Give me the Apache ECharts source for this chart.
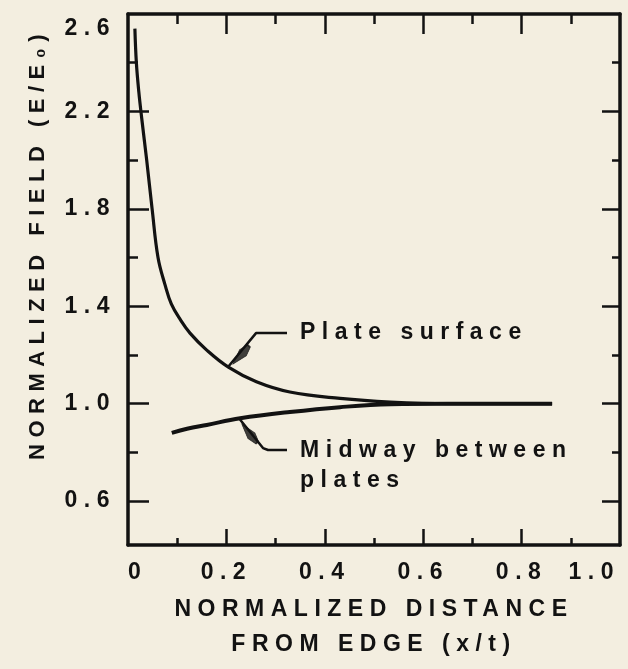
<!DOCTYPE html>
<html>
<head>
<meta charset="utf-8">
<script src="https://cdn.jsdelivr.net/npm/echarts@6/dist/echarts.min.js"></script>
<style>
  html, body { margin: 0; padding: 0; background: #f3eee0; }
  #chart { width: 628px; height: 669px; }
</style>
</head>
<body>
<div id="chart"></div>
<script>
// ---- Data ----
const xTickValues = [0, 0.2, 0.4, 0.6, 0.8, 1.0];
const xTickLabels = ['0', '0.2', '0.4', '0.6', '0.8', '1.0'];
const xMajorTicks = [0.2, 0.4, 0.6, 0.8];
const xMinorTicks = [0.1, 0.3, 0.5, 0.7, 0.9];
const yTickValues = [0.6, 1.0, 1.4, 1.8, 2.2, 2.6];
const yTickLabels = ['0.6', '1.0', '1.4', '1.8', '2.2', '2.6'];
const yMajorTicks = [0.6, 1.0, 1.4, 1.8, 2.2];
const yMinorTicks = [0.8, 1.2, 1.6, 2.0, 2.4];

const plateX = [0.014, 0.017, 0.022, 0.028, 0.038, 0.049, 0.061, 0.075, 0.088, 0.107, 0.126, 0.16, 0.204, 0.261, 0.329, 0.431, 0.533, 0.65, 0.862];
const plateY = [2.54, 2.40, 2.28, 2.17, 2.00, 1.80, 1.60, 1.49, 1.41, 1.343, 1.29, 1.22, 1.15, 1.09, 1.048, 1.022, 1.007, 1.0, 1.0];
const midwayX = [0.089, 0.12, 0.16, 0.228, 0.329, 0.431, 0.533, 0.65, 0.862];
const midwayY = [0.88, 0.897, 0.913, 0.94, 0.966, 0.986, 0.998, 1.0, 1.0];

// annotation leaders (data coordinates)
const plateLeaderX = [0.2033, 0.2602, 0.3232];
const plateLeaderY = [1.151, 1.29, 1.29];
const midwayLeaderX = [0.2276, 0.2744, 0.2846, 0.3232];
const midwayLeaderY = [0.935, 0.818, 0.81, 0.81];
const arrowX = [0.2296, 0.2470];
const arrowY = [1.200, 0.878];
const arrowAngle = [138.6, 39.4];
const plateLabel = 'Plate surface';
const midwayLabel = 'Midway between\nplates';
const xTitle = 'NORMALIZED DISTANCE\nFROM EDGE (x/t)';
const yTitle = 'NORMALIZED FIELD (E/E\u2080)';

// wide tracking of the typewriter-like lettering
(function () {
  const P = CanvasRenderingContext2D.prototype;
  const orig = P.fillText;
  P.fillText = function () {
    try { this.letterSpacing = '6.5px'; } catch (e) {}
    return orig.apply(this, arguments);
  };
})();

// ---- Build ----
const INK = '#121212';
const FONT = '"Liberation Sans", Arial, sans-serif';
const zip = (a, b) => a.map((v, i) => [v, b[i]]);
const lookup = (vals, labels) => (v) => {
  const i = vals.findIndex(t => Math.abs(t - v) < 1e-6);
  return i >= 0 ? labels[i] : '';
};
const xFmt = lookup(xTickValues, xTickLabels);
const yFmt = lookup(yTickValues, yTickLabels);

const labelStyle = { color: INK, fontFamily: FONT, fontSize: 23, fontWeight: 'bold' };
const GRID = { left: 128, right: 8, top: 14, bottom: 124, containLabel: false };

function xAx(grid, pos, ticks, len, showLine, extra) {
  return Object.assign({
    type: 'value', position: pos, min: 0, max: 1, gridIndex: grid,
    axisLine: { show: showLine, onZero: false, lineStyle: { color: INK, width: 3.5 } },
    axisTick: { show: true, inside: true, length: len, customValues: ticks, lineStyle: { color: INK, width: 2.5 } },
    axisLabel: { show: false },
    splitLine: { show: false }
  }, extra || {});
}
function yAx(grid, pos, ticks, len, showLine, extra) {
  return Object.assign({
    type: 'value', position: pos, min: 0.42, max: 2.6, gridIndex: grid,
    axisLine: { show: showLine, onZero: false, lineStyle: { color: INK, width: 3.5 } },
    axisTick: { show: true, inside: true, length: len, customValues: ticks, lineStyle: { color: INK, width: 2.5 } },
    axisLabel: { show: false },
    splitLine: { show: false }
  }, extra || {});
}

const chart = echarts.init(document.getElementById('chart'), null, { renderer: 'canvas', width: 628, height: 669 });

const option = {
  backgroundColor: '#f3eee0',
  animation: false,
  grid: [Object.assign({}, GRID), Object.assign({}, GRID)],
  xAxis: [
    xAx(0, 'bottom', xMajorTicks, 16, true, {
      axisLabel: Object.assign({
        show: true, customValues: xTickValues, margin: 16,
        formatter: (v) => xFmt(v), alignMinLabel: 'left', alignMaxLabel: 'right'
      }, labelStyle),
      name: xTitle, nameLocation: 'middle', nameGap: 47,
      nameTextStyle: { color: INK, fontFamily: FONT, fontSize: 23, fontWeight: 'bold', lineHeight: 35 }
    }),
    xAx(0, 'top', xMajorTicks, 20, true),
    xAx(1, 'bottom', xMinorTicks, 7, false),
    xAx(1, 'top', xMinorTicks, 10, false)
  ],
  yAxis: [
    yAx(0, 'left', yMajorTicks, 21, true, {
      axisLabel: Object.assign({
        show: true, customValues: yTickValues, margin: 12,
        formatter: (v) => (Math.abs(v - 2.6) < 1e-6 ? '{top|' + yFmt(v) + '}' : yFmt(v)),
        rich: { top: Object.assign({ padding: [30, 0, 0, 0] }, labelStyle) }
      }, labelStyle)
    }),
    yAx(0, 'right', yMajorTicks, 18, true),
    yAx(1, 'left', yMinorTicks, 10, false),
    yAx(1, 'right', yMinorTicks, 8, false)
  ],
  graphic: [{
    type: 'text', x: 38, y: 244, rotation: Math.PI / 2,
    style: { text: yTitle, fill: INK, font: 'bold 22px ' + FONT, align: 'center', verticalAlign: 'middle' }
  }],
  series: [
    {
      name: 'Plate surface', type: 'line', data: zip(plateX, plateY),
      xAxisIndex: 0, yAxisIndex: 0,
      smooth: 0.4, symbol: 'none',
      lineStyle: { color: INK, width: 3.2 }, z: 3
    },
    {
      name: 'Midway between plates', type: 'line', data: zip(midwayX, midwayY),
      xAxisIndex: 0, yAxisIndex: 0,
      smooth: 0.4, symbol: 'none',
      lineStyle: { color: INK, width: 4 }, z: 3
    },
    {
      type: 'line', data: zip(plateLeaderX, plateLeaderY), symbol: 'none', silent: true,
      xAxisIndex: 0, yAxisIndex: 0,
      lineStyle: { color: INK, width: 2.5 },
      endLabel: { show: true, formatter: plateLabel, distance: 13, color: INK, fontFamily: FONT, fontSize: 23, fontWeight: 'bold' }
    },
    {
      type: 'line', data: zip(midwayLeaderX, midwayLeaderY), symbol: 'none', silent: true,
      xAxisIndex: 0, yAxisIndex: 0,
      lineStyle: { color: INK, width: 2.5 },
      endLabel: { show: true, formatter: midwayLabel, distance: 13, offset: [0, 16], lineHeight: 30, align: 'left', color: INK, fontFamily: FONT, fontSize: 23, fontWeight: 'bold' }
    },
    {
      type: 'scatter', silent: true,
      xAxisIndex: 0, yAxisIndex: 0,
      symbol: 'path://M5 0 L10 15 L7 24 L3 24 L0 15 Z', symbolSize: [9, 24],
      itemStyle: { color: INK, borderColor: INK, borderWidth: 1 },
      data: arrowX.map((x, i) => ({ value: [x, arrowY[i]], symbolRotate: arrowAngle[i] })),
      z: 4
    }
  ]
};
chart.setOption(option);
</script>
</body>
</html>
